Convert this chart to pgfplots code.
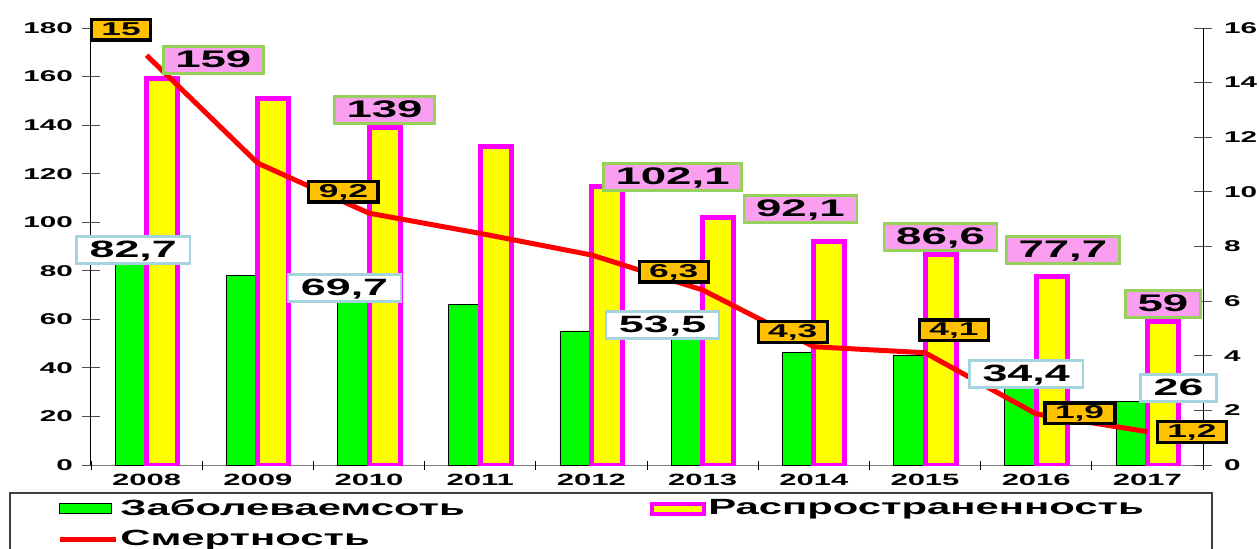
\documentclass[border=0pt]{standalone}
\usepackage{pgfplots}
\pgfplotsset{compat=1.18}
\usepackage{fontspec}
\setmainfont{Liberation Sans}[FakeStretch=1.9]
\definecolor{cgreen}{RGB}{0,255,0}
\definecolor{cyellow}{RGB}{255,255,0}
\definecolor{cmag}{RGB}{255,0,255}
\definecolor{cred}{RGB}{255,0,0}
\definecolor{corange}{RGB}{255,192,0}
\definecolor{cpink}{RGB}{250,158,240}
\definecolor{cpbord}{RGB}{150,210,90}
\definecolor{cwbord}{RGB}{165,212,222}
\newcommand{\fs}[1]{\fontsize{#1}{#1}\selectfont\bfseries}
\tikzset{
 olab/.style={fill=corange, draw=black, line width=1.6pt, font=\fs{9.3}, inner xsep=5pt, inner ysep=1.4pt, text height=6.6pt, text depth=0.75pt},
 plab/.style={fill=cpink, draw=cpbord, line width=1.25pt, font=\fs{12}, inner xsep=6pt, inner ysep=2pt, text height=8.6pt, text depth=1pt},
 wlab/.style={fill=white, draw=cwbord, line width=1.25pt, font=\fs{11.8}, inner xsep=6.5pt, inner ysep=2pt, text height=8.6pt, text depth=1pt},
}
\pgfplotsset{
 barleg/.style={legend image code/.code={\draw[##1] (0pt,-2.5pt) rectangle (26pt,2.5pt);}},
 lineleg/.style={legend image code/.code={\draw[##1] (0pt,0pt) -- (28pt,0pt);}},
 common/.style={
  at={(45.5pt,41.5pt)}, anchor=south west, scale only axis,
  width=556pt, height=218.5pt, xmin=-0.5, xmax=9.5,
  /pgf/number format/assume math mode=true,
  tick align=center, major tick length=9pt,
  yticklabel style={font=\fs{7.8}},
 }
}
\begin{document}
\begin{tikzpicture}
\path[use as bounding box] (0pt,0pt) rectangle (629.5pt,274pt);
\draw[line width=0.6pt, black!75] (5pt,-20pt) -- (5pt,27.5pt) -- (606pt,27.5pt) -- (606pt,-20pt);
\begin{axis}[common,
 ymin=0, ymax=180,
 axis x line=bottom, axis y line=left,
 x axis line style={gray, line width=0.5pt, -},
 y axis line style={black, line width=0.5pt, -},
 xtick={0,1,2,3,4,5,6,7,8,9},
 xticklabels={2008,2009,2010,2011,2012,2013,2014,2015,2016,2017},
 xtick style={draw=none},
 extra x ticks={-0.5,0.5,1.5,2.5,3.5,4.5,5.5,6.5,7.5,8.5,9.5},
 extra x tick labels={},
 extra x tick style={xtick style={draw=black, line width=0.4pt}, major tick length=4.5pt},
 ytick={0,20,...,180},
 ytick style={black!70, line width=0.4pt},
 yticklabel style={xshift=-1pt},
 xticklabel style={font=\fs{8.15}, yshift=3.5pt},
]
\addplot[ybar, bar width=15pt, bar shift=-8.25pt, fill=cgreen, draw=black, line width=0.4pt]
 coordinates {(0,82.7)(1,78)(2,69.7)(3,66.2)(4,55.2)(5,53.5)(6,46.3)(7,45.3)(8,34.4)(9,26)};
\addplot[ybar, bar width=15.5pt, bar shift=7.75pt, fill=cyellow, draw=cmag, line width=2.5pt]
 coordinates {(0,159)(1,151)(2,139)(3,131)(4,114.6)(5,102.1)(6,92.1)(7,86.6)(8,77.7)(9,59)};
\end{axis}
\begin{axis}[common,
 ymin=0, ymax=16,
 axis x line=none, axis y line=right,
 y axis line style={black, line width=0.5pt, -},
 ytick={0,2,...,16},
 ytick style={black!70, line width=0.4pt},
 yticklabel style={xshift=2.5pt},
 clip=false,
 legend columns=2,
 legend style={at={(-0.0306,-0.073)}, anchor=north west, draw=none, fill=none,
   font=\fs{11}, inner sep=0pt, row sep=4pt,
   nodes={inner sep=1pt}},
 legend cell align=left,
]
\addlegendimage{barleg, fill=cgreen, draw=black, line width=0.5pt}
\addlegendentry{\makebox[264pt][l]{Заболеваемсоть}}
\addlegendimage{barleg, fill=cyellow, draw=cmag, line width=2pt}
\addlegendentry{Распространенность}
\addplot[lineleg, cred, line width=2.5pt, line join=round, mark=none]
 coordinates {(0,15)(1,11.05)(2,9.22)(3,8.48)(4,7.69)(5,6.41)(6,4.33)(7,4.11)(8,1.87)(9,1.22)};
\addlegendentry{Смертность}
\node[olab] at (axis cs:-0.23,15.93) {15};
\node[plab] at (axis cs:0.60,14.83) {159};
\node[plab] at (axis cs:2.14,13.0) {139};
\node[olab] at (axis cs:1.77,10.0) {9,2};
\node[wlab] at (axis cs:-0.12,7.87) {82,7};
\node[wlab] at (axis cs:1.78,6.48) {69,7};
\node[plab] at (axis cs:4.73,10.54) {102,1};
\node[plab] at (axis cs:5.88,9.37) {92,1};
\node[olab] at (axis cs:4.74,7.07) {6,3};
\node[wlab] at (axis cs:4.64,5.13) {53,5};
\node[olab] at (axis cs:5.81,4.87) {4,3};
\node[plab] at (axis cs:7.14,8.35) {86,6};
\node[plab] at (axis cs:8.24,7.87) {77,7};
\node[olab] at (axis cs:7.26,4.94) {4,1};
\node[wlab] at (axis cs:7.91,3.33) {34,4};
\node[olab] at (axis cs:8.39,1.90) {1,9};
\node[plab] at (axis cs:9.14,5.89) {59};
\node[wlab] at (axis cs:9.28,2.82) {26};
\node[olab] at (axis cs:9.40,1.21) {1,2};
\end{axis}
\end{tikzpicture}
\end{document}
